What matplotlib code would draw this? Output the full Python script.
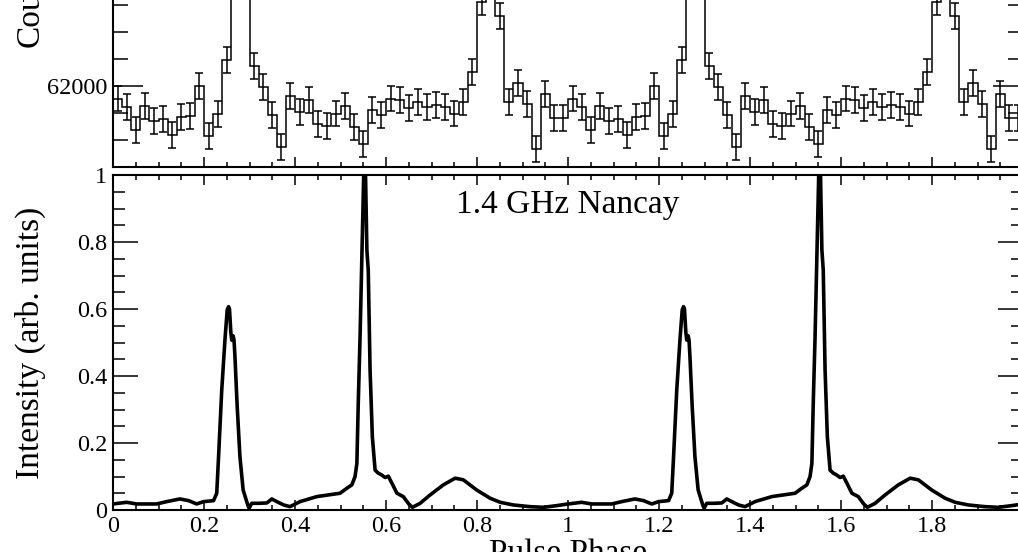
import matplotlib.pyplot as plt
import numpy as np
from matplotlib.ticker import MultipleLocator, FuncFormatter

plt.rcParams['font.family'] = ['Liberation Serif', 'DejaVu Serif']

# X-ray counts in 50 phase bins (one rotation, drawn twice)
xray_counts = [61907, 61846, 61673, 61853, 61744, 61757, 61636, 61772, 61777, 61998,
               61631, 61789, 62191, 63500, 63300, 62147, 61994, 61784, 61549, 61925,
               61804, 61895, 61715, 61705, 61796, 61853, 61698, 61569, 61821, 61784,
               61907, 61895, 61838, 61883, 61846, 61858, 61846, 61796, 61883, 62100,
               62623, 63100, 62520, 61883, 62019, 61863, 61530, 61940, 61764, 61766]
count_err = 96

# 1.4 GHz Nancay profile, one rotation
radio_phase = [0.000, 0.030, 0.052, 0.096, 0.118, 0.147, 0.166, 0.184, 0.199, 0.221,
               0.228, 0.232, 0.239, 0.246, 0.251, 0.254, 0.256, 0.259, 0.261, 0.264,
               0.266, 0.268, 0.273, 0.279, 0.286, 0.295, 0.299, 0.305, 0.320, 0.338,
               0.349, 0.360, 0.375, 0.389, 0.411, 0.448, 0.484, 0.499, 0.514, 0.525,
               0.532, 0.536, 0.539, 0.543, 0.547, 0.551, 0.555, 0.558, 0.561, 0.565,
               0.570, 0.576, 0.583, 0.590, 0.598, 0.605, 0.613, 0.624, 0.638, 0.650,
               0.658, 0.675, 0.697, 0.726, 0.752, 0.770, 0.799, 0.829, 0.851, 0.880,
               0.916, 0.946, 0.975]
radio_intensity = [0.018, 0.023, 0.018, 0.018, 0.025, 0.033, 0.028, 0.018, 0.025, 0.028,
                   0.050, 0.159, 0.358, 0.507, 0.597, 0.607, 0.600, 0.530, 0.507, 0.520,
                   0.507, 0.458, 0.308, 0.159, 0.060, 0.020, 0.005, 0.020, 0.020, 0.021,
                   0.033, 0.025, 0.015, 0.010, 0.025, 0.040, 0.047, 0.050, 0.065, 0.075,
                   0.100, 0.139, 0.318, 0.517, 0.766, 1.000, 1.000, 0.776, 0.716, 0.418,
                   0.219, 0.119, 0.110, 0.105, 0.097, 0.101, 0.080, 0.050, 0.040, 0.018,
                   0.008, 0.020, 0.045, 0.075, 0.095, 0.090, 0.060, 0.035, 0.023, 0.015,
                   0.010, 0.008, 0.013]

# two rotations
n_bins = len(xray_counts)
edges = np.linspace(0, 2, 2 * n_bins + 1)
centers = 0.5 * (edges[:-1] + edges[1:])
counts = np.tile(xray_counts, 2)

rp = np.array(radio_phase)
phase2 = np.concatenate([rp, rp + 1, [2.0]])
inten2 = np.concatenate([radio_intensity, radio_intensity, [radio_intensity[0]]])

W, H = 1018, 552
fig = plt.figure(figsize=(W / 100, H / 100), dpi=100)
ax_top = fig.add_axes([113 / W, 385 / H, 910 / W, 335 / H])
ax_bot = fig.add_axes([113 / W, 42 / H, 910 / W, 335 / H])

# upper panel: X-ray histogram with error bars
ax_top.stairs(counts, edges, color='black', lw=1.1)
ax_top.errorbar(centers, counts, yerr=count_err, fmt='none', ecolor='black',
                elinewidth=1.1, capsize=2.9, capthick=1.1)
ax_top.set_ylim(61400, 63880)
ax_top.yaxis.set_major_locator(MultipleLocator(1000))
ax_top.yaxis.set_minor_locator(MultipleLocator(200))
ax_top.set_ylabel('Counts', fontsize=24)
ax_top.yaxis.set_label_coords(-0.074, 0.5)

# lower panel: radio profile
ax_bot.plot(phase2, inten2, color='black', lw=2.6, solid_joinstyle='round')
ax_bot.set_ylim(0, 1)
ax_bot.yaxis.set_major_locator(MultipleLocator(0.2))
ax_bot.yaxis.set_minor_locator(MultipleLocator(0.05))
ax_bot.set_ylabel('Intensity (arb. units)', fontsize=24)
ax_bot.yaxis.set_label_coords(-0.074, 0.5)
ax_bot.set_xlabel('Pulse Phase', fontsize=24)
ax_bot.xaxis.set_label_coords(0.5, -0.084)
ax_bot.text(0.5, 0.887, '1.4 GHz Nancay', transform=ax_bot.transAxes,
            ha='center', va='baseline', fontsize=24)

fmt = FuncFormatter(lambda v, p: f'{v:g}')
for ax in (ax_top, ax_bot):
    ax.set_xlim(0, 2)
    ax.xaxis.set_major_locator(MultipleLocator(0.2))
    ax.xaxis.set_minor_locator(MultipleLocator(0.05))
    ax.xaxis.set_major_formatter(fmt)
    ax.yaxis.set_major_formatter(fmt)
    ax.tick_params(which='both', direction='in', top=True, right=True,
                   width=1.1, labelsize=17.5, pad=4)
    ax.tick_params(axis='x', which='major', length=7)
    ax.tick_params(axis='x', which='minor', length=3.6)
    for s in ax.spines.values():
        s.set_linewidth(1.5)

ax_top.tick_params(axis='y', which='major', length=21.6)
ax_top.tick_params(axis='y', which='minor', length=10.8)
ax_top.tick_params(labelbottom=False)
ax_bot.tick_params(axis='y', which='major', length=18)
ax_bot.tick_params(axis='y', which='minor', length=8.6)

fig.savefig('out.png', dpi=100)
